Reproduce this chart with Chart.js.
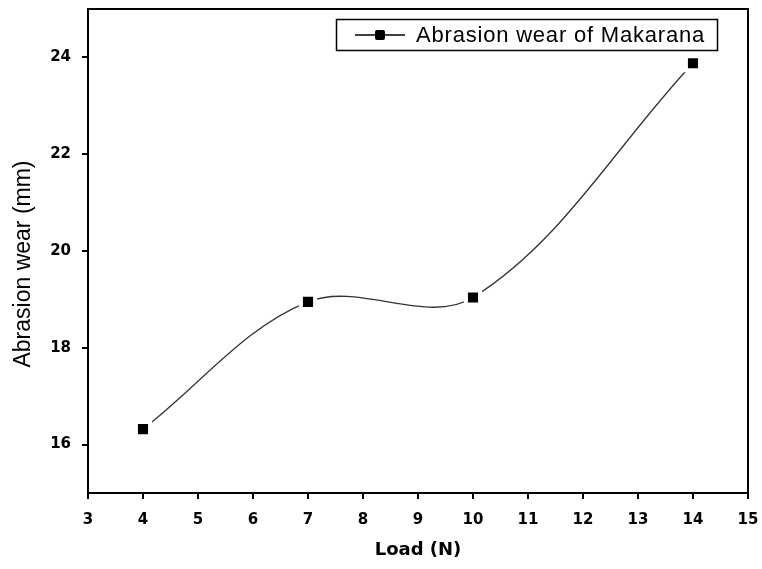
<!DOCTYPE html>
<html>
<head>
<meta charset="utf-8">
<script src="https://cdn.jsdelivr.net/npm/chart.js@4/dist/chart.umd.min.js"></script>
<style>
  html, body { margin: 0; padding: 0; background: #fff; }
  #wrap { width: 762px; height: 569px; }
</style>
</head>
<body>
<div id="wrap"><canvas id="wearChart" width="762" height="569"></canvas></div>
<script>
const loads = [4, 7, 10, 14];
const wear = [16.32, 18.95, 19.04, 23.88];
const xTicks = [3, 4, 5, 6, 7, 8, 9, 10, 11, 12, 13, 14, 15];
const yTicks = [16, 18, 20, 22, 24];
const seriesName = 'Abrasion wear of Makarana';
const yTitle = 'Abrasion wear (mm)';

const tickFont = { family: '"DejaVu Sans"', size: 15, weight: 'bold' };

// closes the plot box on top and right, draws the y title and the legend box
const frameAndLegend = {
    id: 'frameAndLegend',
    afterDraw(chart) {
        const { ctx, chartArea: a } = chart;
        ctx.save();
        ctx.strokeStyle = '#000';
        ctx.lineWidth = 2;
        ctx.beginPath();
        ctx.moveTo(a.left, a.top);
        ctx.lineTo(a.right, a.top);
        ctx.lineTo(a.right, a.bottom);
        ctx.stroke();

        // y title, sitting a little below the middle of the axis
        ctx.save();
        ctx.translate(24, 264);
        ctx.rotate(-Math.PI / 2);
        ctx.font = '23px "Liberation Sans"';
        ctx.fillStyle = '#000';
        ctx.textAlign = 'center';
        ctx.textBaseline = 'middle';
        ctx.fillText(yTitle, 0, 0);
        ctx.restore();

        // legend
        ctx.lineWidth = 1.5;
        ctx.strokeRect(336.5, 19.5, 381, 31);
        ctx.beginPath();
        ctx.moveTo(355, 35);
        ctx.lineTo(405, 35);
        ctx.stroke();
        ctx.fillStyle = '#000';
        ctx.beginPath();
        ctx.roundRect(375, 30, 10, 10, 2);
        ctx.fill();
        ctx.font = '22px "Liberation Sans"';
        ctx.letterSpacing = '0.8px';
        ctx.textBaseline = 'middle';
        ctx.fillText(seriesName, 416, 36);
        ctx.restore();
    }
};

new Chart(document.getElementById('wearChart'), {
    type: 'line',
    data: {
        datasets: [{
            label: seriesName,
            data: loads.map((x, i) => ({ x: x, y: wear[i] })),
            borderColor: '#333',
            borderWidth: 1.3,
            tension: 0.35,
            pointStyle: 'rect',
            pointRadius: 10,
            pointBackgroundColor: '#000',
            pointBorderColor: '#fff',
            pointBorderWidth: 4,
            fill: false
        }]
    },
    options: {
        responsive: false,
        animation: false,
        layout: { autoPadding: false, padding: { top: 9, right: 14, left: 0, bottom: 0 } },
        plugins: {
            legend: { display: false },
            tooltip: { enabled: false }
        },
        scales: {
            x: {
                type: 'linear',
                min: 3,
                max: 15,
                afterBuildTicks: s => { s.ticks = xTicks.map(v => ({ value: v })); },
                afterFit: s => { s.height = 76; s.paddingLeft = 0; s.paddingRight = 0; },
                border: { display: true, color: '#000', width: 2 },
                grid: { drawOnChartArea: false, drawTicks: true, tickLength: 6, color: '#000', lineWidth: 2 },
                ticks: { color: '#000', font: tickFont, padding: 12, maxRotation: 0 },
                title: {
                    display: true,
                    text: 'Load (N)',
                    color: '#000',
                    font: { family: '"DejaVu Sans"', size: 18, weight: 'bold' },
                    padding: { top: 0, bottom: 8 }
                }
            },
            y: {
                min: 15,
                max: 25,
                afterBuildTicks: s => { s.ticks = yTicks.map(v => ({ value: v })); },
                afterFit: s => { s.width = 88; s.paddingTop = 0; s.paddingBottom = 0; },
                border: { display: true, color: '#000', width: 2 },
                grid: { drawOnChartArea: false, drawTicks: true, tickLength: 6, color: '#000', lineWidth: 2 },
                ticks: { color: '#000', font: tickFont, padding: 11 }
            }
        }
    },
    plugins: [frameAndLegend]
});
</script>
</body>
</html>
